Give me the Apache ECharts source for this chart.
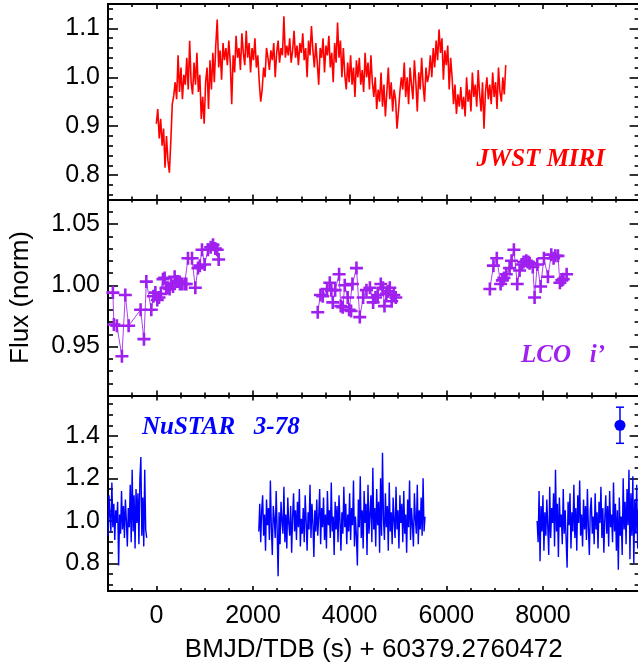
<!DOCTYPE html>
<html>
<head>
<meta charset="utf-8">
<script src="https://cdn.jsdelivr.net/npm/echarts@6/dist/echarts.min.js"></script>
<style>
  html, body { margin: 0; padding: 0; background: #fff; }
  #chart { width: 638px; height: 668px; }
</style>
</head>
<body>
<div id="chart"></div>
<script>
// Shared time axis (seconds relative to BMJD/TDB 60379.2760472)
const timeRange = [-1000, 10000];
const timeMajorTicks = [0, 2000, 4000, 6000, 8000];
const timeMinorStep = 500;

// JWST MIRI light curve: evenly binned, start time and cadence in seconds
const miriStart = 0;
const miriStep = 30;
const miriFlux = [
  0.905, 0.935, 0.875, 0.915, 0.860, 0.895, 0.815, 0.880, 0.830, 0.805,
  0.870, 0.945, 0.962, 0.990, 0.955, 1.045, 0.970, 1.020, 0.955, 1.005,
  0.985, 1.040, 0.975, 1.075, 0.990, 0.965, 1.030, 0.985, 1.050, 0.970,
  1.005, 0.915, 0.960, 0.905, 0.990, 1.020, 0.935, 1.035, 0.975, 1.050,
  0.990, 1.065, 1.118, 1.020, 1.055, 0.995, 1.070, 1.035, 1.060, 1.025,
  1.075, 1.030, 0.945, 1.045, 1.010, 1.085, 1.040, 1.060, 1.015, 1.090,
  1.050, 1.025, 1.095, 1.040, 1.070, 1.010, 1.060, 1.035, 1.080, 1.020,
  1.045, 0.990, 0.950, 0.975, 1.020, 1.000, 1.060, 1.040, 1.015, 1.055,
  1.035, 1.070, 1.000, 1.050, 1.075, 1.030, 1.060, 1.045, 1.125, 1.040,
  1.065, 1.045, 1.080, 1.030, 1.055, 1.095, 1.040, 1.065, 1.025, 1.070,
  1.050, 1.090, 1.035, 1.060, 1.000, 1.075, 1.045, 1.105, 1.055, 1.020,
  1.070, 1.030, 0.985, 1.060, 1.040, 1.080, 1.010, 1.065, 1.045, 1.085,
  1.020, 1.050, 0.990, 1.070, 1.030, 1.112, 1.040, 1.075, 1.000, 1.060,
  1.005, 0.975, 1.030, 0.990, 1.045, 0.985, 1.020, 0.960, 1.035, 1.000,
  1.040, 0.985, 1.015, 0.970, 1.050, 1.000, 1.030, 0.975, 1.045, 0.990,
  0.960, 1.000, 0.935, 0.975, 0.950, 1.010, 0.940, 0.985, 0.920, 0.970,
  1.020, 0.955, 0.990, 0.930, 0.975, 0.955, 0.895, 0.930, 0.970, 1.000,
  0.975, 1.030, 0.960, 1.000, 0.945, 1.020, 0.985, 0.955, 1.035, 0.990,
  0.930, 1.010, 0.975, 1.040, 0.985, 0.950, 1.020, 0.990, 1.005, 1.045,
  1.000, 1.060, 1.020, 1.075, 1.035, 1.098, 1.050, 1.080, 0.995, 1.055,
  1.025, 1.065, 0.975, 1.040, 1.000, 0.945, 0.985, 0.925, 0.965, 0.940,
  0.980, 0.935, 0.960, 0.920, 1.000, 0.950, 0.975, 0.930, 1.010, 0.960,
  0.985, 0.940, 1.015, 0.965, 0.930, 0.990, 0.895, 0.970, 1.000, 0.955,
  0.985, 0.945, 1.010, 0.960, 0.990, 0.935, 1.020, 0.970, 0.950, 1.000,
  0.965, 1.025
];

// LCO i' photometry, three observing blocks (time in s, normalised flux)
const lcoTime1 = [-899, -878, -816, -712, -642, -573, -325, -256, -207, -104, -60, -20, 20, 55, 95, 137, 172, 205, 241, 275, 310, 345, 379, 414, 448, 490, 531, 586, 620, 655, 738, 807, 862, 900, 945, 1000, 1069, 1124, 1173, 1221, 1260, 1290];
const lcoFlux1 = [0.994, 0.968, 0.967, 0.942, 0.992, 0.967, 0.980, 0.956, 1.003, 0.980, 0.991, 0.994, 0.988, 0.990, 0.993, 1.005, 1.006, 0.998, 0.998, 0.997, 1.001, 0.999, 1.007, 1.003, 1.003, 1.001, 1.001, 1.001, 1.001, 1.022, 1.022, 0.998, 1.014, 1.016, 1.029, 1.017, 1.029, 1.031, 1.033, 1.030, 1.029, 1.021];
const lcoTime2 = [3340, 3396, 3444, 3533, 3589, 3620, 3651, 3700, 3782, 3816, 3858, 3899, 3960, 3989, 4030, 4058, 4141, 4210, 4279, 4348, 4420, 4486, 4535, 4580, 4645, 4690, 4721, 4760, 4790, 4831, 4870, 4914, 4955];
const lcoFlux2 = [0.978, 0.992, 0.991, 0.997, 1.002, 0.996, 0.986, 0.996, 1.009, 0.983, 0.982, 1.000, 0.990, 0.980, 0.979, 1.001, 1.014, 0.974, 0.990, 0.996, 0.998, 0.986, 0.990, 0.992, 1.001, 0.998, 0.983, 0.993, 0.995, 0.998, 0.987, 0.992, 0.990];
const lcoTime3 = [6902, 6975, 7045, 7124, 7160, 7192, 7240, 7310, 7350, 7399, 7468, 7517, 7560, 7600, 7655, 7700, 7724, 7790, 7827, 7882, 7952, 8020, 8103, 8172, 8220, 8255, 8310, 8351, 8390, 8420, 8490];
const lcoFlux3 = [0.997, 1.016, 1.022, 1.001, 1.004, 1.006, 1.009, 1.014, 1.020, 1.029, 1.001, 1.012, 1.017, 1.019, 1.020, 1.019, 1.018, 1.015, 0.990, 1.017, 0.999, 1.022, 1.007, 1.025, 1.022, 1.024, 1.024, 1.002, 1.004, 1.005, 1.009];

// NuSTAR 3-78 keV light curve, three orbits binned at 20 s
const nustarStep = 20;
const nustarStart1 = -1000;
const nustarFlux1 = [
  0.93, 1.12, 1.02, 0.95, 1.18, 0.97, 1.08, 0.91, 1.05, 0.99,
  1.09, 0.79, 1.03, 0.94, 1.14, 0.96, 1.07, 0.92, 1.10, 1.00,
  0.88, 1.06, 0.97, 1.17, 0.90, 1.24, 0.95, 1.12, 0.87, 1.15,
  0.99, 1.13, 0.89, 1.20, 1.30, 0.93, 1.11, 0.88, 1.24, 0.96, 0.92
];
const nustarStart2 = 2120;
const nustarFlux2 = [
  0.95, 1.08, 0.90, 1.05, 1.12, 0.93, 1.03, 0.86, 1.10, 0.98,
  1.06, 0.91, 1.19, 0.97, 0.84, 1.07, 1.01, 0.92, 1.14, 0.96,
  0.74, 1.04, 0.89, 1.09, 1.00, 0.94, 1.16, 0.90, 1.03, 0.87,
  1.11, 0.99, 0.93, 1.07, 0.85, 1.02, 1.13, 0.95, 1.05, 0.91,
  1.09, 0.97, 1.15, 0.88, 1.01, 0.94, 1.06, 0.90, 1.12, 1.00,
  0.86, 1.04, 0.96, 1.17, 0.92, 1.08, 0.99, 0.83, 1.05, 0.95,
  1.10, 0.93, 1.02, 1.15, 0.89, 1.06, 0.97, 1.11, 0.91, 1.03,
  0.87, 1.14, 0.98, 1.05, 0.92, 1.18, 0.95, 1.02, 0.84, 1.09,
  0.96, 1.07, 0.90, 1.12, 1.00, 0.86, 1.04, 0.94, 1.16, 0.97,
  1.08, 0.89, 1.03, 0.95, 1.13, 0.91, 1.06, 0.98, 1.19, 0.88,
  1.02, 0.93, 0.79, 1.10, 0.97, 1.21, 0.92, 1.05, 0.87, 1.14,
  0.99, 1.08, 0.84, 1.17, 0.94, 1.03, 1.12, 0.90, 1.25, 0.96,
  1.06, 0.88, 1.15, 0.98, 1.09, 0.85, 1.20, 0.93, 1.32, 1.01,
  0.91, 1.13, 0.97, 1.07, 0.86, 1.18, 0.95, 1.04, 0.89, 1.11,
  1.00, 0.92, 1.16, 0.96, 1.05, 0.87, 1.12, 0.99, 1.08, 0.90,
  1.14, 0.94, 1.03, 0.85, 1.10, 0.97, 1.19, 0.91, 1.06, 0.98,
  0.88, 1.13, 1.01, 0.94, 1.17, 0.89, 1.05, 0.96, 1.11, 0.93,
  1.20, 0.95, 1.02
];
const nustarStart3 = 7880;
const nustarFlux3 = [
  1.00, 0.90, 1.14, 0.81, 1.07, 0.95, 1.12, 0.86, 1.04, 0.93,
  1.10, 0.97, 0.84, 1.16, 0.92, 1.06, 0.99, 1.13, 0.88, 1.24,
  0.95, 1.08, 0.83, 1.11, 0.97, 1.03, 0.89, 1.15, 0.94, 1.05,
  0.91, 0.78, 1.09, 0.98, 1.13, 0.87, 1.04, 0.95, 1.17, 0.92,
  1.06, 0.86, 1.12, 0.99, 1.19, 0.93, 1.03, 0.88, 1.10, 0.96,
  1.07, 0.91, 1.15, 0.97, 0.84, 1.05, 1.11, 0.94, 1.02, 0.89,
  1.13, 0.96, 1.04, 0.87, 1.09, 0.99, 1.16, 0.92, 1.06, 0.85,
  1.01, 1.12, 0.94, 1.07, 0.88, 1.14, 0.97, 1.03, 0.90, 1.18,
  0.95, 1.08, 0.86, 1.05, 0.77, 1.11, 0.93, 1.02, 0.84, 1.20,
  0.96, 1.09, 0.89, 1.15, 0.98, 1.24, 0.82, 1.13, 0.93, 1.21,
  0.80, 1.10, 0.94, 1.17, 0.87, 1.06
];
// Representative NuSTAR error bar
const nustarErrTime = [9594];
const nustarErrFlux = [1.45];
const nustarErrSigma = [0.085];

// Flux axis settings for each panel
const miriFluxRange = [0.75, 1.15];
const miriFluxTicks = [0.8, 0.9, 1.0, 1.1];
const lcoFluxRange = [0.91, 1.07];
const lcoFluxTicks = [0.95, 1.00, 1.05];
const nustarFluxRange = [0.67, 1.59];
const nustarFluxTicks = [0.8, 1.0, 1.2, 1.4];

const RED = '#ff0000', PURPLE = '#a020f0', BLUE = '#0000ff';
const SANS = '"Liberation Sans", Arial, Helvetica, sans-serif';
const SERIF_LABEL = 'italic bold 25px "Liberation Serif", "Times New Roman", serif';

function evenSeries(start, step, values) {
  return values.map((v, k) => [start + k * step, v]);
}
function pairs(ts, vs) {
  return ts.map((t, k) => [t, vs[k]]);
}
function stepValues(min, max, step, exclude) {
  const out = [];
  for (let k = Math.ceil(min / step - 1e-9); k * step <= max + 1e-9; k++) {
    const v = +(k * step).toFixed(6);
    if (!exclude.some(e => Math.abs(e - v) < 1e-9)) out.push(v);
  }
  return out;
}

const panels = [
  { top: 4, height: 195.5, range: miriFluxRange, major: miriFluxTicks, minorStep: 0.02, digits: 1 },
  { top: 199.5, height: 196, range: lcoFluxRange, major: lcoFluxTicks, minorStep: 0.01, digits: 2 },
  { top: 395.5, height: 195.5, range: nustarFluxRange, major: nustarFluxTicks, minorStep: 0.05, digits: 1 }
];

const grids = panels.map(p => ({
  left: 108, width: 531.6, top: p.top, height: p.height,
  show: false, outerBoundsMode: 'none', containLabel: false
}));

const tickLine = { color: '#000', width: 1.6 };
const timeMinor = stepValues(timeRange[0], timeRange[1], timeMinorStep, timeMajorTicks);

function xAxisDef(gi, position, ticks, len, extra) {
  return Object.assign({
    type: 'value', gridIndex: gi, position,
    min: timeRange[0], max: timeRange[1],
    axisLine: { show: true, onZero: false, lineStyle: { color: '#000', width: 2 } },
    axisTick: { show: true, inside: true, length: len, customValues: ticks, lineStyle: tickLine },
    axisLabel: { show: false },
    splitLine: { show: false },
    minorTick: { show: false }
  }, extra || {});
}
function yAxisDef(gi, p, position, ticks, len, extra) {
  return Object.assign({
    type: 'value', gridIndex: gi, position,
    min: p.range[0], max: p.range[1],
    axisLine: { show: true, onZero: false, lineStyle: { color: '#000', width: 2 } },
    axisTick: { show: true, inside: true, length: len, customValues: ticks, lineStyle: tickLine },
    axisLabel: { show: false },
    splitLine: { show: false },
    minorTick: { show: false }
  }, extra || {});
}

const xAxes = [], yAxes = [];
// main axes first: index i belongs to panel i
panels.forEach((p, i) => {
  const bottomExtra = i === 2 ? {
    axisLabel: {
      show: true, customValues: timeMajorTicks, margin: 13,
      color: '#000', fontSize: 25, fontFamily: SANS,
      formatter: v => String(Math.round(v))
    },
    name: 'BMJD/TDB (s) + 60379.2760472',
    nameLocation: 'middle', nameGap: 46, nameMoveOverlap: false,
    nameTextStyle: { color: '#000', fontSize: 26, fontFamily: SANS }
  } : {};
  xAxes.push(xAxisDef(i, 'bottom', timeMajorTicks, 5, bottomExtra));
  const leftExtra = {
    axisLabel: {
      show: true, customValues: p.major, margin: 8,
      color: '#000', fontSize: 25, fontFamily: SANS,
      formatter: v => Number(v).toFixed(p.digits)
    }
  };
  if (i === 1) {
    Object.assign(leftExtra, {
      name: 'Flux (norm)', nameLocation: 'middle', nameGap: 74, nameRotate: 90,
      nameMoveOverlap: false,
      nameTextStyle: { color: '#000', fontSize: 26, fontFamily: SANS }
    });
  }
  yAxes.push(yAxisDef(i, p, 'left', p.major, 10, leftExtra));
});
// tick-only axes: minor ticks and mirrored top/right ticks
panels.forEach((p, i) => {
  const yMinor = stepValues(p.range[0], p.range[1], p.minorStep, p.major);
  xAxes.push(xAxisDef(i, 'bottom', timeMinor, 3));
  xAxes.push(xAxisDef(i, 'top', timeMajorTicks, 5));
  xAxes.push(xAxisDef(i, 'top', timeMinor, 3));
  yAxes.push(yAxisDef(i, p, 'left', yMinor, 5));
  yAxes.push(yAxisDef(i, p, 'right', p.major, 10));
  yAxes.push(yAxisDef(i, p, 'right', yMinor, 5));
});

// bold "+" marker
const plusSymbol = 'path://M5.2,0H7.8V5.2H13V7.8H7.8V13H5.2V7.8H0V5.2H5.2Z';

function lcoSeries(ts, vs) {
  return {
    type: 'line', xAxisIndex: 1, yAxisIndex: 1,
    data: pairs(ts, vs),
    symbol: plusSymbol, symbolSize: 13, symbolKeepAspect: true,
    showSymbol: true, showAllSymbol: true,
    itemStyle: { color: PURPLE },
    lineStyle: { color: PURPLE, width: 1, opacity: 0.85 },
    silent: true
  };
}
function nustarSeries(start, vals) {
  return {
    type: 'line', xAxisIndex: 2, yAxisIndex: 2,
    data: evenSeries(start, nustarStep, vals),
    showSymbol: false, symbol: 'none',
    lineStyle: { color: BLUE, width: 1.4 },
    silent: true
  };
}

const series = [
  {
    type: 'line', xAxisIndex: 0, yAxisIndex: 0,
    data: evenSeries(miriStart, miriStep, miriFlux),
    showSymbol: false, symbol: 'none',
    lineStyle: { color: RED, width: 1.6 },
    silent: true
  },
  lcoSeries(lcoTime1, lcoFlux1),
  lcoSeries(lcoTime2, lcoFlux2),
  lcoSeries(lcoTime3, lcoFlux3),
  nustarSeries(nustarStart1, nustarFlux1),
  nustarSeries(nustarStart2, nustarFlux2),
  nustarSeries(nustarStart3, nustarFlux3),
  {
    type: 'custom', xAxisIndex: 2, yAxisIndex: 2,
    data: nustarErrTime.map((t, k) => [t, nustarErrFlux[k], nustarErrSigma[k]]),
    renderItem: (params, api) => {
      const t = api.value(0), f = api.value(1), s = api.value(2);
      const c = api.coord([t, f]);
      const hi = api.coord([t, f + s]);
      const lo = api.coord([t, f - s]);
      const st = { stroke: BLUE, lineWidth: 1.5 };
      return {
        type: 'group',
        children: [
          { type: 'line', shape: { x1: c[0], y1: hi[1], x2: c[0], y2: lo[1] }, style: st },
          { type: 'line', shape: { x1: c[0] - 4, y1: hi[1], x2: c[0] + 4, y2: hi[1] }, style: st },
          { type: 'line', shape: { x1: c[0] - 4, y1: lo[1], x2: c[0] + 4, y2: lo[1] }, style: st },
          { type: 'circle', shape: { cx: c[0], cy: c[1], r: 5.5 }, style: { fill: BLUE } }
        ]
      };
    },
    silent: true
  }
];

const graphic = [
  { type: 'text', x: 605, y: 160, silent: true,
    style: { text: 'JWST MIRI', font: SERIF_LABEL, fill: RED, align: 'right', verticalAlign: 'middle' } },
  { type: 'text', x: 605, y: 356, silent: true,
    style: { text: 'LCO   i\u2019', font: SERIF_LABEL, fill: PURPLE, align: 'right', verticalAlign: 'middle' } },
  { type: 'text', x: 142, y: 428, silent: true,
    style: { text: 'NuSTAR   3-78', font: SERIF_LABEL, fill: BLUE, align: 'left', verticalAlign: 'middle' } }
];

const chart = echarts.init(document.getElementById('chart'), null, { renderer: 'canvas' });
chart.setOption({
  animation: false,
  backgroundColor: '#fff',
  grid: grids,
  xAxis: xAxes,
  yAxis: yAxes,
  series,
  graphic
});
</script>
</body>
</html>
